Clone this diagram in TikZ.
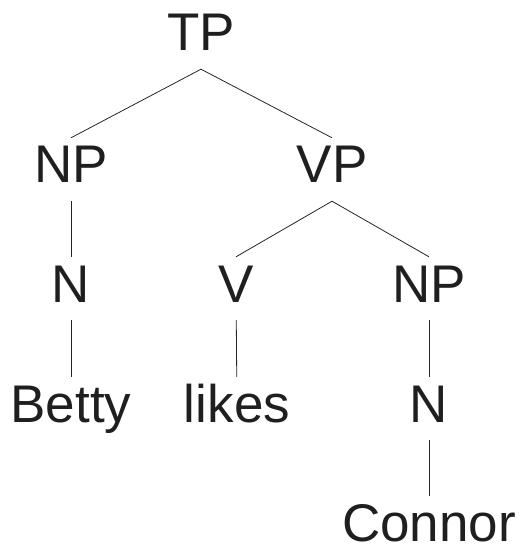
\documentclass[tikz,border=0pt]{standalone}
\usepackage{fontspec}
\setmainfont{Liberation Sans}
\usepackage{tikz}
\usetikzlibrary{positioning}

\begin{document}
\begin{tikzpicture}[
    x=1pt, y=-1pt,
    cat/.style={anchor=base, inner xsep=2pt, inner ysep=7pt, text height=38pt, text depth=11pt, text=black!88, font=\fontsize{53}{60}\selectfont},
    leaf/.style={cat, inner ysep=0pt, text height=45pt, text depth=0pt},
    branch/.style={draw=black!85, line width=0.8pt}
]
    \useasboundingbox (0,0) rectangle (520,545);
    \node[cat] (tp) at (201,51) {TP};
    \node[cat] (np) at (71,183) {NP};
    \node[cat] (vp) at (332,183) {VP};
    \node[cat] (n) at (71,302) {N};
    \node[cat] (v) at (236,302) {V};
    \node[cat] (objnp) at (429,302) {NP};
    \node[cat] (betty) at (71,422) {Betty};
    \node[cat] (likes) at (237,422) {likes};
    \node[cat] (objn) at (429,422) {N};
    \node[leaf] (connor) at (429,541) {Connor};
    
    \draw[branch] (np.north) -- (tp.south) -- (vp.north);
    \draw[branch] (np) -- (n);
    \draw[branch] (n) -- (betty);
    \draw[branch] (v.north) -- (vp.south) -- (objnp.north);
    \draw[branch] (v) -- (likes);
    \draw[branch] (objnp) -- (objn);
    \draw[branch] (objn) -- (connor);
\end{tikzpicture}
\end{document}
